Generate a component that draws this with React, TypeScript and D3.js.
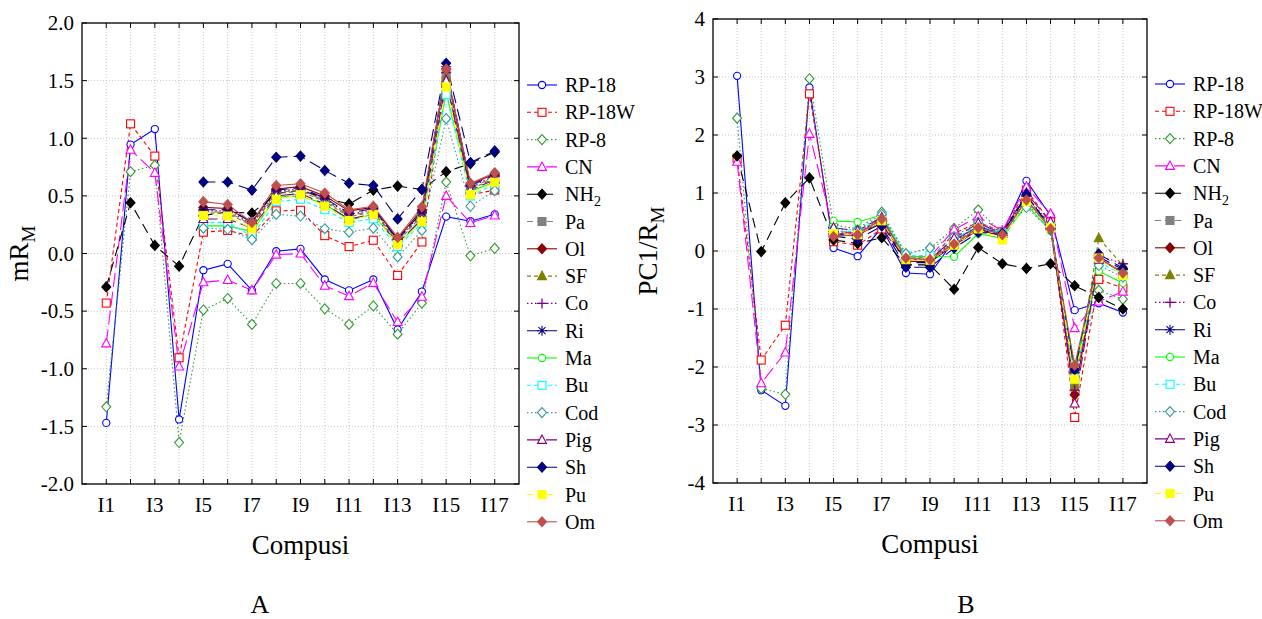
import React from 'react';
import * as d3 from 'd3';

// compounds I1..I17
const compounds = d3.range(1, 18).map((i) => 'I' + i);
const xTickLabels = compounds.filter((_, i) => i % 2 === 0);

const seriesNames = ['RP-18', 'RP-18W', 'RP-8', 'CN', 'NH2', 'Pa', 'Ol', 'SF', 'Co', 'Ri', 'Ma', 'Bu', 'Cod', 'Pig', 'Sh', 'Pu', 'Om'];

// panel A : mRM  (first four compounds only measured on the 5 first phases)
const na = [null, null, null, null];
const mrmRP18 = [-1.47, 0.945, 1.08, -1.44, -0.145, -0.09, -0.32, 0.02, 0.04, -0.225, -0.32, -0.225, -0.66, -0.33, 0.32, 0.28, 0.34];
const mrmRP18W = [-0.43, 1.125, 0.845, -0.905, 0.185, 0.2, 0.15, 0.37, 0.375, 0.155, 0.06, 0.115, -0.19, 0.1, 1.5, 0.51, 0.55];
const mrmRP8 = [-1.33, 0.71, 0.765, -1.64, -0.49, -0.39, -0.615, -0.26, -0.26, -0.48, -0.615, -0.455, -0.7, -0.43, 0.62, -0.02, 0.045];
const mrmCN = [-0.78, 0.9, 0.7, -0.98, -0.25, -0.23, -0.32, -0.01, 0.0, -0.28, -0.37, -0.255, -0.595, -0.375, 0.5, 0.265, 0.33];
const mrmNH2 = [-0.29, 0.44, 0.07, -0.11, 0.33, 0.36, 0.35, 0.52, 0.55, 0.48, 0.43, 0.55, 0.585, 0.555, 0.71, 0.78, 0.88];
const mrmPa = [...na, 0.36, 0.36, 0.25, 0.53, 0.55, 0.46, 0.33, 0.37, 0.11, 0.34, 1.55, 0.57, 0.66];
const mrmOl = [...na, 0.4, 0.39, 0.27, 0.56, 0.58, 0.5, 0.37, 0.4, 0.13, 0.38, 1.6, 0.6, 0.69];
const mrmSF = [...na, 0.35, 0.35, 0.24, 0.52, 0.54, 0.45, 0.32, 0.36, 0.1, 0.33, 1.52, 0.56, 0.65];
const mrmCo = [...na, 0.37, 0.37, 0.26, 0.54, 0.56, 0.47, 0.34, 0.38, 0.12, 0.35, 1.57, 0.58, 0.67];
const mrmRi = [...na, 0.38, 0.38, 0.28, 0.55, 0.57, 0.48, 0.35, 0.39, 0.12, 0.36, 1.62, 0.59, 0.68];
const mrmMa = [...na, 0.24, 0.24, 0.19, 0.49, 0.5, 0.43, 0.29, 0.34, 0.08, 0.29, 1.4, 0.54, 0.62];
const mrmBu = [...na, 0.27, 0.27, 0.15, 0.45, 0.47, 0.38, 0.27, 0.3, 0.06, 0.26, 1.38, 0.5, 0.6];
const mrmCod = [...na, 0.22, 0.21, 0.12, 0.34, 0.325, 0.215, 0.185, 0.22, -0.03, 0.2, 1.17, 0.41, 0.545];
const mrmPig = [...na, 0.3, 0.3, 0.22, 0.5, 0.52, 0.43, 0.3, 0.34, 0.09, 0.3, 1.5, 0.55, 0.64];
const mrmSh = [...na, 0.62, 0.62, 0.55, 0.835, 0.845, 0.72, 0.61, 0.59, 0.3, 0.555, 1.65, 0.79, 0.89];
const mrmPu = [...na, 0.33, 0.325, 0.215, 0.47, 0.51, 0.41, 0.285, 0.34, 0.08, 0.275, 1.445, 0.51, 0.62];
const mrmOm = [...na, 0.45, 0.425, 0.27, 0.59, 0.605, 0.525, 0.38, 0.41, 0.14, 0.405, 1.6, 0.61, 0.7];

// panel B : PC1/RM
const pcRP18 = [3.02, -2.4, -2.67, 2.82, 0.05, -0.09, 0.4, -0.38, -0.4, 0.19, 0.42, 0.3, 1.21, 0.61, -1.02, -0.9, -1.06];
const pcRP18W = [1.6, -1.88, -1.28, 2.71, 0.16, 0.1, 0.38, -0.15, -0.15, 0.3, 0.5, 0.33, 1.05, 0.5, -2.87, -0.49, -0.64];
const pcRP8 = [2.29, -2.37, -2.47, 2.97, 0.45, 0.38, 0.67, -0.05, 0.05, 0.39, 0.71, 0.3, 0.8, 0.45, -2.1, -0.68, -0.83];
const pcCN = [1.54, -2.28, -1.75, 2.02, 0.35, 0.3, 0.55, -0.1, -0.1, 0.37, 0.59, 0.35, 1.11, 0.64, -1.33, -0.87, -0.7];
const pcNH2 = [1.64, -0.01, 0.83, 1.26, 0.19, 0.13, 0.23, -0.24, -0.24, -0.66, 0.06, -0.22, -0.3, -0.22, -0.6, -0.8, -1.0];
const pcPa = [...na, 0.32, 0.28, 0.55, -0.12, -0.15, 0.15, 0.4, 0.28, 0.9, 0.42, -2.3, -0.15, -0.35];
const pcOl = [...na, 0.28, 0.26, 0.52, -0.18, -0.18, 0.1, 0.36, 0.26, 0.88, 0.38, -2.48, -0.12, -0.38];
const pcSF = [...na, 0.3, 0.3, 0.58, -0.1, -0.12, 0.18, 0.42, 0.3, 0.92, 0.45, -2.35, 0.22, -0.25];
const pcCo = [...na, 0.33, 0.32, 0.56, -0.14, -0.14, 0.16, 0.44, 0.28, 0.95, 0.46, -2.4, -0.08, -0.22];
const pcRi = [...na, 0.3, 0.27, 0.48, -0.2, -0.2, 0.12, 0.38, 0.27, 0.96, 0.4, -2.1, -0.1, -0.32];
const pcMa = [...na, 0.52, 0.5, 0.62, -0.1, -0.1, -0.1, 0.3, 0.22, 0.8, 0.35, -2.0, -0.35, -0.55];
const pcBu = [...na, 0.35, 0.33, 0.6, -0.08, -0.08, 0.2, 0.45, 0.3, 0.85, 0.42, -2.2, -0.2, -0.4];
const pcCod = [...na, 0.38, 0.36, 0.63, -0.05, 0.05, 0.25, 0.5, 0.32, 0.75, 0.36, -2.15, -0.25, -0.45];
const pcPig = [...na, 0.4, 0.35, 0.58, -0.15, -0.15, 0.22, 0.48, 0.3, 1.0, 0.5, -2.63, -0.15, -0.35];
const pcSh = [...na, 0.26, 0.2, 0.43, -0.28, -0.28, 0.05, 0.32, 0.3, 0.98, 0.38, -2.05, -0.05, -0.3];
const pcPu = [...na, 0.3, 0.28, 0.52, -0.15, -0.16, 0.1, 0.38, 0.19, 0.85, 0.4, -2.21, -0.12, -0.42];
const pcOm = [...na, 0.25, 0.28, 0.55, -0.12, -0.15, 0.12, 0.4, 0.28, 0.88, 0.38, -1.97, -0.12, -0.38];

const mrmValues = [mrmRP18, mrmRP18W, mrmRP8, mrmCN, mrmNH2, mrmPa, mrmOl, mrmSF, mrmCo, mrmRi, mrmMa, mrmBu, mrmCod, mrmPig, mrmSh, mrmPu, mrmOm];
const pcValues = [pcRP18, pcRP18W, pcRP8, pcCN, pcNH2, pcPa, pcOl, pcSF, pcCo, pcRi, pcMa, pcBu, pcCod, pcPig, pcSh, pcPu, pcOm];

const mrmTicks = [2.0, 1.5, 1.0, 0.5, 0.0, -0.5, -1.0, -1.5, -2.0];
const pcTicks = [4, 3, 2, 1, 0, -1, -2, -3, -4];

// style per series: colour, dash, marker
const styles = [
  { color: '#0000ff', dash: null, marker: 'circle', fill: false },
  { color: '#ff0000', dash: '4,3', marker: 'square', fill: false },
  { color: '#339933', dash: '1.5,2.5', marker: 'diamond', fill: false },
  { color: '#ff00ff', dash: '14,5', marker: 'triangle', fill: false },
  { color: '#000000', dash: '10,6', marker: 'diamond', fill: true },
  { color: '#808080', dash: '6,4', marker: 'square', fill: true },
  { color: '#8b0000', dash: null, marker: 'diamond', fill: true },
  { color: '#808000', dash: '4,3', marker: 'triangle', fill: true },
  { color: '#800080', dash: '1.5,2.5', marker: 'plus', fill: false },
  { color: '#000080', dash: '12,6', marker: 'star', fill: false },
  { color: '#00ff00', dash: null, marker: 'circle', fill: false },
  { color: '#00ffff', dash: '4,3', marker: 'square', fill: false },
  { color: '#339999', dash: '1.5,2.5', marker: 'diamond', fill: false },
  { color: '#800080', dash: '14,5', marker: 'triangle', fill: false },
  { color: '#000080', dash: '12,6', marker: 'diamond', fill: true },
  { color: '#ffff00', dash: '6,4', marker: 'square', fill: true },
  { color: '#c0504d', dash: null, marker: 'diamond', fill: true },
];

const serif = '"Liberation Serif", "Times New Roman", serif';

function Marker({ x, y, s }: any) {
  const fill = s.fill ? s.color : '#fff';
  const sw = 1.1;
  switch (s.marker) {
    case 'circle':
      return <circle cx={x} cy={y} r={3.6} fill={fill} stroke={s.color} strokeWidth={sw} />;
    case 'square':
      return <rect x={x - 4} y={y - 4} width={8} height={8} fill={fill} stroke={s.color} strokeWidth={sw} />;
    case 'diamond':
      return <path d={`M${x},${y - 5}L${x + 4.5},${y}L${x},${y + 5}L${x - 4.5},${y}Z`} fill={fill} stroke={s.color} strokeWidth={sw} />;
    case 'triangle':
      return <path d={`M${x},${y - 5}L${x + 4.5},${y + 3.5}L${x - 4.5},${y + 3.5}Z`} fill={fill} stroke={s.color} strokeWidth={sw} />;
    case 'plus':
      return <path d={`M${x - 5},${y}H${x + 5}M${x},${y - 5}V${y + 5}`} stroke={s.color} strokeWidth={1.3} />;
    case 'star':
      return <path d={`M${x - 5},${y}H${x + 5}M${x},${y - 5}V${y + 5}M${x - 3.5},${y - 3.5}L${x + 3.5},${y + 3.5}M${x - 3.5},${y + 3.5}L${x + 3.5},${y - 3.5}`} stroke={s.color} strokeWidth={1.1} />;
    default:
      return null;
  }
}

function SeriesLabel({ name }: { name: string }) {
  if (name === 'NH2') {
    return (
      <>
        NH<tspan dy={5} fontSize={14}>2</tspan>
      </>
    );
  }
  return <>{name}</>;
}

function Panel({ box, domain, ticks, tickFmt, values, yLabel, legendX, legendY, letter, letterX }: any) {
  const x = d3.scaleLinear().domain([0, 18]).range([box.left, box.right]);
  const y = d3.scaleLinear().domain(domain).range([box.bottom, box.top]);
  const line = d3
    .line<any>()
    .defined((d) => d != null)
    .x((d, i) => x(i + 1))
    .y((d) => y(d));
  const cx = (box.left + box.right) / 2;
  const cy = (box.top + box.bottom) / 2;

  return (
    <g>
      {/* grid */}
      {compounds.map((c, i) => (
        <line key={'gx' + c} x1={x(i + 1)} x2={x(i + 1)} y1={box.top} y2={box.bottom} stroke="#c8c8c8" strokeDasharray="1,2" />
      ))}
      {ticks.map((t: number) => (
        <line key={'gy' + t} x1={box.left} x2={box.right} y1={y(t)} y2={y(t)} stroke="#c8c8c8" strokeDasharray="1,2" />
      ))}
      {/* tick marks inside */}
      {compounds.map((c, i) => (
        <g key={'tx' + c} stroke="#000">
          <line x1={x(i + 1)} x2={x(i + 1)} y1={box.top} y2={box.top + 5} />
          <line x1={x(i + 1)} x2={x(i + 1)} y1={box.bottom} y2={box.bottom - 5} />
        </g>
      ))}
      {ticks.map((t: number) => (
        <g key={'ty' + t} stroke="#000">
          <line x1={box.left} x2={box.left + 5} y1={y(t)} y2={y(t)} />
          <line x1={box.right} x2={box.right - 5} y1={y(t)} y2={y(t)} />
        </g>
      ))}
      {/* series */}
      {values.map((v: any[], k: number) => (
        <path key={'l' + k} d={line(v) || ''} fill="none" stroke={styles[k].color} strokeWidth={1.1} strokeDasharray={styles[k].dash || undefined} />
      ))}
      {values.map((v: any[], k: number) =>
        v.map((d, i) => (d == null ? null : <Marker key={'m' + k + '-' + i} x={x(i + 1)} y={y(d)} s={styles[k]} />))
      )}
      <rect x={box.left} y={box.top} width={box.right - box.left} height={box.bottom - box.top} fill="none" stroke="#000" strokeWidth={1.3} />
      {/* axis labels */}
      {ticks.map((t: number) => (
        <text key={'yl' + t} x={box.left - 8} y={y(t)} dy="0.35em" textAnchor="end" fontFamily={serif} fontSize={21}>
          {tickFmt(t)}
        </text>
      ))}
      {xTickLabels.map((lab) => (
        <text key={'xl' + lab} x={x(compounds.indexOf(lab) + 1)} y={box.bottom + 28} textAnchor="middle" fontFamily={serif} fontSize={21}>
          {lab}
        </text>
      ))}
      <text x={cx} y={box.bottom + 70} textAnchor="middle" fontFamily={serif} fontSize={27}>
        Compusi
      </text>
      <text transform={`translate(${yLabel.x},${cy}) rotate(-90)`} textAnchor="middle" fontFamily={serif} fontSize={27}>
        {yLabel.main}
        <tspan dy={7} fontSize={19}>M</tspan>
      </text>
      {/* legend */}
      {seriesNames.map((n, k) => {
        const ly = legendY + k * 27.3;
        return (
          <g key={'lg' + n}>
            <line x1={legendX} x2={legendX + 30} y1={ly} y2={ly} stroke={styles[k].color} strokeWidth={1.1} strokeDasharray={styles[k].dash || undefined} />
            <Marker x={legendX + 15} y={ly} s={styles[k]} />
            <text x={legendX + 38} y={ly} dy="0.35em" fontFamily={serif} fontSize={20}>
              <SeriesLabel name={n} />
            </text>
          </g>
        );
      })}
      <text x={letterX} y={613} textAnchor="middle" fontFamily={serif} fontSize={26}>
        {letter}
      </text>
    </g>
  );
}

export default function App() {
  return (
    <svg width={1262} height={619} style={{ position: 'absolute', left: 0, top: 0, background: '#fff' }}>
      <rect width={1262} height={619} fill="#fff" />
      <Panel
        box={{ left: 82, right: 519, top: 23, bottom: 484 }}
        domain={[-2, 2]}
        ticks={mrmTicks}
        tickFmt={(t: number) => t.toFixed(1)}
        values={mrmValues}
        yLabel={{ x: 28, main: 'mR' }}
        legendX={527}
        legendY={85}
        letter="A"
        letterX={260}
      />
      <Panel
        box={{ left: 713, right: 1147, top: 19, bottom: 483 }}
        domain={[-4, 4]}
        ticks={pcTicks}
        tickFmt={(t: number) => String(t)}
        values={pcValues}
        yLabel={{ x: 657, main: 'PC1/R' }}
        legendX={1155}
        legendY={84}
        letter="B"
        letterX={966}
      />
    </svg>
  );
}
